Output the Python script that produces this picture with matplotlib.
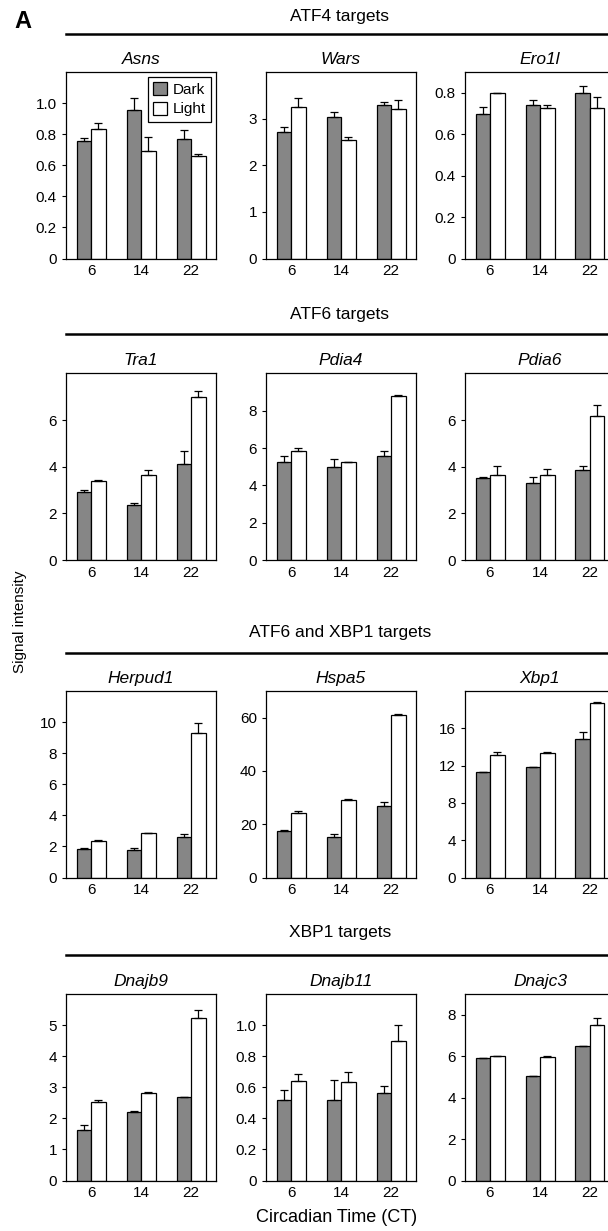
import numpy as np
import matplotlib
matplotlib.use("Agg")
import matplotlib.pyplot as plt
from matplotlib.lines import Line2D

plt.rcParams['font.family'] = ['Liberation Sans', 'DejaVu Sans']

W, H = 608, 1231

ct_labels = ["6", "14", "22"]
group_names = ["ATF4 targets", "ATF6 targets", "ATF6 and XBP1 targets", "XBP1 targets"]
gene_rows = [["Asns", "Wars", "Ero1l"],
             ["Tra1", "Pdia4", "Pdia6"],
             ["Herpud1", "Hspa5", "Xbp1"],
             ["Dnajb9", "Dnajb11", "Dnajc3"]]

# values: mean and upper error, dark / light
asns_dark = [0.753, 0.957, 0.772]
asns_dark_err = [0.025, 0.077, 0.056]
asns_light = [0.832, 0.690, 0.658]
asns_light_err = [0.039, 0.093, 0.017]

wars_dark = [2.71, 3.035, 3.30]
wars_dark_err = [0.12, 0.10, 0.06]
wars_light = [3.24, 2.54, 3.21]
wars_light_err = [0.21, 0.06, 0.20]

ero1l_dark = [0.697, 0.740, 0.797]
ero1l_dark_err = [0.033, 0.024, 0.035]
ero1l_light = [0.798, 0.726, 0.726]
ero1l_light_err = [0.003, 0.013, 0.054]

tra1_dark = [2.93, 2.38, 4.13]
tra1_dark_err = [0.07, 0.07, 0.53]
tra1_light = [3.39, 3.65, 7.01]
tra1_light_err = [0.06, 0.19, 0.25]

pdia4_dark = [5.24, 5.01, 5.55]
pdia4_dark_err = [0.36, 0.39, 0.32]
pdia4_light = [5.85, 5.24, 8.77]
pdia4_light_err = [0.14, 0.02, 0.09]

pdia6_dark = [3.52, 3.32, 3.87]
pdia6_dark_err = [0.06, 0.26, 0.17]
pdia6_light = [3.65, 3.65, 6.16]
pdia6_light_err = [0.39, 0.26, 0.50]

herpud1_dark = [1.83, 1.77, 2.59]
herpud1_dark_err = [0.09, 0.11, 0.21]
herpud1_light = [2.33, 2.84, 9.31]
herpud1_light_err = [0.11, 0.02, 0.63]

hspa5_dark = [17.3, 15.3, 26.8]
hspa5_dark_err = [0.5, 1.1, 1.6]
hspa5_light = [24.3, 29.1, 60.9]
hspa5_light_err = [0.8, 0.2, 0.6]

xbp1_dark = [11.32, 11.89, 14.85]
xbp1_dark_err = [0.0, 0.0, 0.72]
xbp1_light = [13.19, 13.30, 18.67]
xbp1_light_err = [0.29, 0.21, 0.10]

dnajb9_dark = [1.63, 2.19, 2.68]
dnajb9_dark_err = [0.17, 0.06, 0.02]
dnajb9_light = [2.54, 2.80, 5.24]
dnajb9_light_err = [0.06, 0.06, 0.26]

dnajb11_dark = [0.515, 0.520, 0.563]
dnajb11_dark_err = [0.065, 0.125, 0.043]
dnajb11_light = [0.641, 0.634, 0.896]
dnajb11_light_err = [0.047, 0.067, 0.104]

dnajc3_dark = [5.90, 5.03, 6.47]
dnajc3_dark_err = [0.03, 0.0, 0.04]
dnajc3_light = [6.00, 5.98, 7.50]
dnajc3_light_err = [0.02, 0.01, 0.32]

# y range and tick step per gene
y_max = {"Asns": (1.2, 0.2), "Wars": (4, 1), "Ero1l": (0.9, 0.2),
         "Tra1": (8, 2), "Pdia4": (10, 2), "Pdia6": (8, 2),
         "Herpud1": (12, 2), "Hspa5": (70, 20), "Xbp1": (20, 4),
         "Dnajb9": (6, 1), "Dnajb11": (1.2, 0.2), "Dnajc3": (9, 2)}

series = {
    "Asns": (asns_dark, asns_dark_err, asns_light, asns_light_err),
    "Wars": (wars_dark, wars_dark_err, wars_light, wars_light_err),
    "Ero1l": (ero1l_dark, ero1l_dark_err, ero1l_light, ero1l_light_err),
    "Tra1": (tra1_dark, tra1_dark_err, tra1_light, tra1_light_err),
    "Pdia4": (pdia4_dark, pdia4_dark_err, pdia4_light, pdia4_light_err),
    "Pdia6": (pdia6_dark, pdia6_dark_err, pdia6_light, pdia6_light_err),
    "Herpud1": (herpud1_dark, herpud1_dark_err, herpud1_light, herpud1_light_err),
    "Hspa5": (hspa5_dark, hspa5_dark_err, hspa5_light, hspa5_light_err),
    "Xbp1": (xbp1_dark, xbp1_dark_err, xbp1_light, xbp1_light_err),
    "Dnajb9": (dnajb9_dark, dnajb9_dark_err, dnajb9_light, dnajb9_light_err),
    "Dnajb11": (dnajb11_dark, dnajb11_dark_err, dnajb11_light, dnajb11_light_err),
    "Dnajc3": (dnajc3_dark, dnajc3_dark_err, dnajc3_light, dnajc3_light_err),
}

dark_color = '#868686'

# layout in pixels (from top-left of the image)
row_top = [72, 373.5, 691, 994]
row_h = 186.5
col_left = [66, 266, 465]
col_w = 150
head_y = [17, 315, 632, 932]
line_y = [34, 334, 653, 955]


def fx(x):
    return x / W


def fy(y):
    return 1 - y / H


def tick_text(v, step):
    if v == 0:
        return "0"
    if step < 1:
        return "%.1f" % v
    return "%d" % round(v)


fig = plt.figure(figsize=(W / 100, H / 100), dpi=100)

fig.text(fx(14), fy(22), "A", fontsize=17, fontweight='bold', ha='left', va='center')

x = np.arange(3)
bw = 0.29
for r, genes in enumerate(gene_rows):
    fig.text(fx(340), fy(head_y[r]), group_names[r], fontsize=12.5, ha='center', va='center')
    fig.add_artist(Line2D([fx(66), fx(620)], [fy(line_y[r]), fy(line_y[r])],
                          color='black', lw=1.8, transform=fig.transFigure))
    for c, gene in enumerate(genes):
        ax = fig.add_axes([fx(col_left[c]), fy(row_top[r] + row_h), col_w / W, row_h / H])
        dark, dark_err, light, light_err = series[gene]
        b1 = ax.bar(x - bw / 2, dark, bw, color=dark_color, edgecolor='black', lw=0.9,
                    yerr=[np.zeros(3), dark_err], capsize=2.6,
                    error_kw=dict(elinewidth=0.9, capthick=0.9, ecolor='black'),
                    label="Dark")
        b2 = ax.bar(x + bw / 2, light, bw, color='white', edgecolor='black', lw=0.9,
                    yerr=[np.zeros(3), light_err], capsize=2.6,
                    error_kw=dict(elinewidth=0.9, capthick=0.9, ecolor='black'),
                    label="Light")
        top, step = y_max[gene]
        ax.set_xlim(-0.5, 2.5)
        ax.set_ylim(0, top)
        yt = np.arange(0, top - 1e-9, step)
        ax.set_yticks(yt)
        ax.set_yticklabels([tick_text(v, step) for v in yt])
        ax.set_xticks(x)
        ax.set_xticklabels(ct_labels)
        ax.tick_params(axis='y', direction='out', length=3, width=0.8, pad=3.5, labelsize=11)
        ax.tick_params(axis='x', length=0, pad=4, labelsize=11)
        for s in ax.spines.values():
            s.set_linewidth(0.9)
        ax.set_title(gene, fontsize=12.5, style='italic', pad=6)
        if gene == "Asns":
            leg = ax.legend(handles=[b1, b2], loc='upper right', fontsize=11,
                            handlelength=0.9, handleheight=0.9, handletextpad=0.4,
                            borderpad=0.35, labelspacing=0.35, borderaxespad=0.3,
                            fancybox=False, framealpha=1)
            leg.get_frame().set_edgecolor('black')
            leg.get_frame().set_linewidth(0.9)

fig.text(fx(20), fy(622), "Signal intensity", fontsize=11, rotation=90, ha='center', va='center')
fig.text(fx(337), fy(1218), "Circadian Time (CT)", fontsize=13, ha='center', va='center')

fig.savefig("out.png", dpi=100)
